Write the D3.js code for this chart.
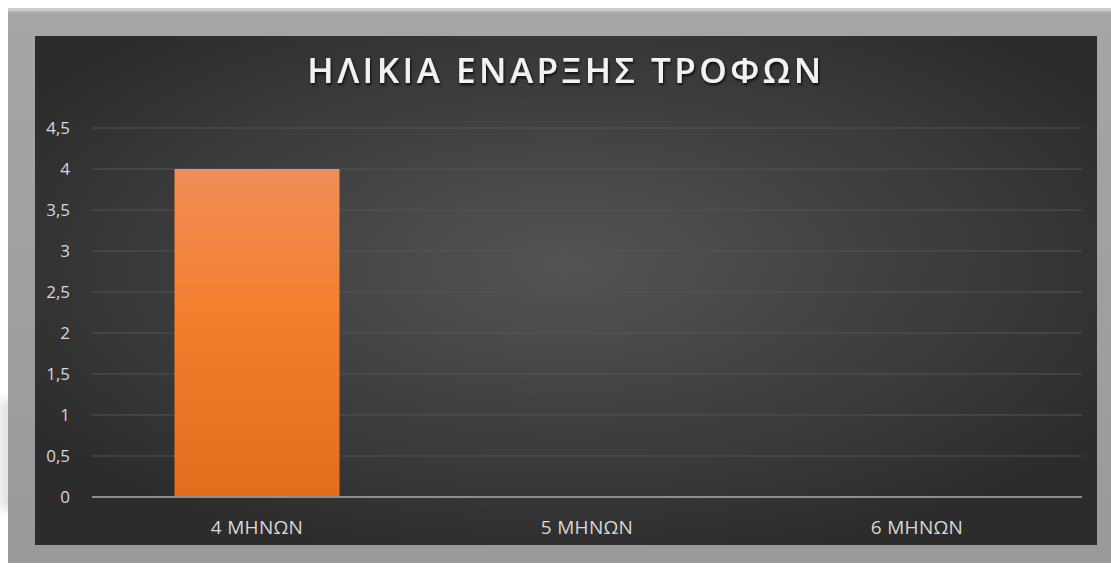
<!DOCTYPE html>
<html>
<head>
<meta charset="utf-8">
<script src="https://cdn.jsdelivr.net/npm/d3@7"></script>
<style>
  html, body { margin: 0; padding: 0; background: #ffffff; }
  svg { display: block; }
  text { font-family: "Open Sans", "Noto Sans", sans-serif; }
</style>
</head>
<body>
<script>
// Chart data
const categories = ["4 ΜΗΝΩΝ", "5 ΜΗΝΩΝ", "6 ΜΗΝΩΝ"];
const values = [4, 0, 0];
const yTicks = [0, 0.5, 1, 1.5, 2, 2.5, 3, 3.5, 4, 4.5];
const chartTitle = "ΗΛΙΚΙΑ ΕΝΑΡΞΗΣ ΤΡΟΦΩΝ";

const W = 1111, H = 567;
const svg = d3.select("body").append("svg").attr("width", W).attr("height", H);
const defs = svg.append("defs");

// Background radial shading of the chart area
const bg = defs.append("radialGradient").attr("id", "bgGrad")
  .attr("cx", "50%").attr("cy", "45%").attr("r", "60%");
bg.append("stop").attr("offset", "0%").attr("stop-color", "#545454");
bg.append("stop").attr("offset", "100%").attr("stop-color", "#2c2c2c");

// Bar fill: lighter orange on top
const barGrad = defs.append("linearGradient").attr("id", "barGrad")
  .attr("x1", 0).attr("y1", 0).attr("x2", 0).attr("y2", 1);
barGrad.append("stop").attr("offset", "0%").attr("stop-color", "#f08d58");
barGrad.append("stop").attr("offset", "45%").attr("stop-color", "#f47e2c");
barGrad.append("stop").attr("offset", "100%").attr("stop-color", "#e36c1d");

// Frame bevel
const frameGrad = defs.append("linearGradient").attr("id", "frameGrad")
  .attr("x1", 0).attr("y1", 0).attr("x2", 0).attr("y2", 1);
frameGrad.append("stop").attr("offset", "0%").attr("stop-color", "#cfcfcf");
frameGrad.append("stop").attr("offset", "1%").attr("stop-color", "#a6a6a6");
frameGrad.append("stop").attr("offset", "100%").attr("stop-color", "#999999");

const shadow = defs.append("filter").attr("id", "titleShadow")
  .attr("x", "-10%").attr("y", "-30%").attr("width", "120%").attr("height", "160%");
shadow.append("feDropShadow").attr("dx", 1).attr("dy", 2).attr("stdDeviation", 1.5)
  .attr("flood-color", "#000").attr("flood-opacity", 0.8);

const soft = defs.append("filter").attr("id", "soft");
soft.append("feGaussianBlur").attr("stdDeviation", 4);

// Soft light shadow to the left of the frame
svg.append("rect").attr("x", 0).attr("y", 400).attr("width", 14).attr("height", 110)
  .attr("fill", "#e2e2e2").attr("filter", "url(#soft)");

// Outer frame
svg.append("rect").attr("x", 8).attr("y", 8).attr("width", W - 8).attr("height", 555)
  .attr("fill", "url(#frameGrad)");
svg.append("rect").attr("x", 8).attr("y", 8).attr("width", W - 8).attr("height", 3)
  .attr("fill", "#cbcbcb");

// Dark chart area
const area = { x: 35, y: 36, w: 1062, h: 509 };
svg.append("rect").attr("x", area.x).attr("y", area.y).attr("width", area.w).attr("height", area.h)
  .attr("fill", "url(#bgGrad)");

// Plot area
const plot = { left: 92, right: 1082, top: 128, bottom: 497 };

const x = d3.scaleBand().domain(categories)
  .range([plot.left, plot.right]).paddingInner(0.5).paddingOuter(0.25);
const y = d3.scaleLinear().domain([0, 4.5]).range([plot.bottom, plot.top]);

// Gridlines
svg.append("g").selectAll("line").data(yTicks.filter(d => d > 0)).join("line")
  .attr("x1", plot.left).attr("x2", plot.right)
  .attr("y1", d => y(d)).attr("y2", d => y(d))
  .attr("stroke", "#545454").attr("stroke-width", 1);

// Y axis labels
const yAxis = d3.axisLeft(y).tickValues(yTicks).tickSize(0).tickPadding(0)
  .tickFormat(d => String(d).replace(".", ","));
const yg = svg.append("g").attr("transform", `translate(70,0)`).call(yAxis);
yg.select(".domain").remove();
yg.selectAll("text").attr("fill", "#d8d8d8").attr("font-size", 17)
  .attr("font-family", "'Open Sans', sans-serif");

// Bars
svg.append("g").selectAll("rect").data(categories.map((c, i) => ({ c, v: values[i] }))).join("rect")
  .attr("x", d => x(d.c)).attr("width", x.bandwidth())
  .attr("y", d => y(d.v)).attr("height", d => y(0) - y(d.v))
  .attr("fill", "url(#barGrad)");

// Baseline
svg.append("line").attr("x1", plot.left).attr("x2", plot.right)
  .attr("y1", y(0)).attr("y2", y(0))
  .attr("stroke", "#8e8e8e").attr("stroke-width", 2);

// X axis labels
const xAxis = d3.axisBottom(x).tickSize(0).tickPadding(0);
const xg = svg.append("g").attr("transform", `translate(0,${plot.bottom + 23})`).call(xAxis);
xg.select(".domain").remove();
xg.selectAll("text").attr("fill", "#d8d8d8").attr("font-size", 19)
  .attr("letter-spacing", 0.3)
  .attr("font-family", "'Open Sans', sans-serif");

// Title
svg.append("text").attr("x", 566).attr("y", 83)
  .attr("text-anchor", "middle")
  .attr("font-size", 35).attr("font-weight", 600)
  .attr("letter-spacing", 3.5)
  .attr("fill", "#f2f2f2")
  .attr("filter", "url(#titleShadow)")
  .text(chartTitle);
</script>
</body>
</html>
